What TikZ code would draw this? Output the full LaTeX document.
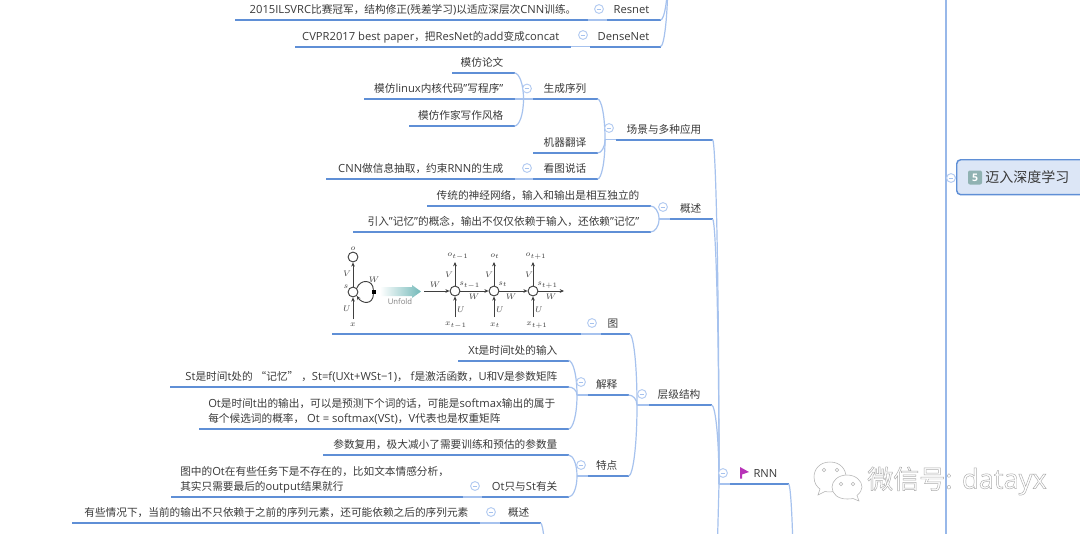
\documentclass[tikz,border=0pt]{standalone}
\usepackage{fontspec}
\setmainfont[Scale=1.05]{Open Sans}
\newfontfamily\cjkf{Noto Sans CJK SC}
\newXeTeXintercharclass\cjkclass
\makeatletter
\count@="3000
\loop\ifnum\count@<"303F \XeTeXcharclass\count@=\cjkclass \advance\count@ by 1 \repeat
\count@="4E00
\loop\ifnum\count@<"9FFF \XeTeXcharclass\count@=\cjkclass \advance\count@ by 1 \repeat
\count@="FF00
\loop\ifnum\count@<"FF60 \XeTeXcharclass\count@=\cjkclass \advance\count@ by 1 \repeat
\makeatother
\XeTeXcharclass"201C=\cjkclass
\XeTeXcharclass"201D=\cjkclass
\XeTeXinterchartoks 0 \cjkclass = {\begingroup\cjkf}
\XeTeXinterchartoks 4095 \cjkclass = {\begingroup\cjkf}
\XeTeXinterchartoks \cjkclass 0 = {\endgroup}
\XeTeXinterchartoks \cjkclass 4095 = {\endgroup}
\XeTeXinterchartokenstate=1
\usetikzlibrary{calc,arrows.meta}
\definecolor{ulc}{HTML}{5F8FD6}
\definecolor{cnc}{HTML}{A6C2EE}
\definecolor{txc}{HTML}{3A3A3A}
\definecolor{figc}{HTML}{3F3F3F}
\tikzset{
  x=0.75pt,y=-0.75pt,
  topic/.style={inner sep=0pt,anchor=south west,text height=8pt,text depth=4.6pt,text=txc,font=\fontsize{8}{11.25}\selectfont},
  ul/.style={draw=ulc,line width=1.5pt},
  conn/.style={draw=cnc,line width=0.9pt},
  collapse/.style={circle,draw=cnc!85!white,fill=white,line width=0.7pt,minimum size=6.6pt,inner sep=0pt,
    path picture={\draw[cnc,line width=0.6pt] ([xshift=1.5pt]path picture bounding box.west) -- ([xshift=-1.5pt]path picture bounding box.east);}},
  fnode/.style={circle,draw=figc,fill=white,line width=0.7pt,minimum size=7.4pt,inner sep=0pt},
  farrow/.style={draw=figc,line width=0.6pt,-{Stealth[length=3.2pt,width=2.8pt]}},
  flab/.style={inner sep=0pt,text=figc,font=\fontsize{6.5}{7}\selectfont},
  flabs/.style={inner sep=0pt,text=figc,font=\fontsize{5.8}{6}\selectfont},
}
% name, left x, right x, underline y, text (right aligned, 11px padding)
\newcommand{\tp}[5]{%
  \pgfmathsetmacro{\tpw}{(#3-#2)*0.75}%
  \node[topic] (#1) at (#2,#4) {\hbox to \tpw pt{\hfill #5\hskip 8.2pt}};%
  \draw[ul] (#1.south west) -- (#1.south east);}
% name, left x, right x, underline y, left pad (px), line 1, line 2
\newcommand{\tpm}[7]{%
  \pgfmathsetmacro{\tpw}{(#3-#2)*0.75}%
  \pgfmathsetmacro{\tpp}{#5*0.75}%
  \node[topic] (#1) at (#2,#4) {\hbox to \tpw pt{\hskip \tpp pt\vbox{\hbox{#6}\hbox{#7}}\hss}};%
  \draw[ul] (#1.south west) -- (#1.south east);}
% child node -> junction
\newcommand{\cn}[2]{%
  \draw[conn] (#1.south east) .. controls ($(#1.south east)!0.5!(#1.south east -| #2)$) and ($(#1.south east -| #2)!0.4!(#2)$) .. (#2);}
\newcommand{\lnk}[2]{\draw[conn] (#1) -- (#2);}
\begin{document}
\begin{tikzpicture}
\useasboundingbox (0,0) rectangle (1080,533);
\clip (0,0) rectangle (1080,533);
\fill[white] (0,0) rectangle (1080,533);

% topics
\tp{resL}{235}{587}{20}{2015ILSVRC比赛冠军，结构修正(残差学习)以适应深层次CNN训练。}
\tp{res}{607}{660}{20}{Resnet}
\tp{denL}{295}{570}{46.5}{CVPR2017 best paper，把ResNet的add变成concat}
\tp{den}{590}{660}{46.5}{DenseNet}

\tp{mf1}{452}{514}{73}{模仿论文}
\tp{mf2}{364}{514}{99}{模仿linux内核代码"写程序"}
\tp{mf3}{409}{514}{126}{模仿作家写作风格}
\tp{scxl}{533}{597}{99}{生成序列}
\tp{jqfy}{533}{597}{153}{机器翻译}
\tp{cnnL}{326}{514}{179}{CNN做信息抽取，约束RNN的生成}
\tp{ktsh}{533}{597}{179}{看图说话}
\tp{cj}{616}{712}{139.5}{场景与多种应用}

\tp{ctL}{427}{650}{206}{传统的神经网络，输入和输出是相互独立的}
\tp{yrL}{353}{650}{232}{引入"记忆"的概念，输出不仅仅依赖于输入，还依赖"记忆"}
\tp{gs}{670}{712}{219}{概述}

\tp{figL}{332}{580}{334}{}
\tp{tu}{601}{629}{334}{图}
\tp{xt}{458}{568}{360.5}{Xt是时间t处的输入}
\tp{st}{170}{568}{387}{St是时间t处的\ “记忆”\ ，St=f(UXt+WSt−1)， f是激活函数，U和V是参数矩阵}
\tpm{ot}{199}{568}{429}{9}{Ot是时间t出的输出，可以是预测下个词的话，可能是softmax输出的属于}{每个候选词的概率， Ot = softmax(VSt)，V代表也是权重矩阵}
\tp{js}{588}{628}{395}{解释}
\tp{cs}{323}{568}{455}{参数复用，极大减小了需要训练和预估的参数量}
\tpm{otsL}{171}{462}{497}{9}{图中的Ot在有些任务下是不存在的，比如文本情感分析，}{其实只需要最后的output结果就行}
\tp{ots}{482}{568}{497}{Ot只与St有关}
\tp{td}{588}{628}{476}{特点}
\tp{cjjg}{649}{711}{405}{层级结构}
\tp{gs2L}{72}{479}{523}{有些情况下，当前的输出不只依赖于之前的序列元素，还可能依赖之后的序列元素}
\tp{gs2}{500}{540}{523}{概述}
\tp{rnn}{730}{788}{484}{RNN}

% junctions
\coordinate (jtop) at (668,-30);
\coordinate (jsc) at (523.5,99);
\coordinate (jcj) at (605,139.5);
\coordinate (jgs) at (659,219);
\coordinate (jjs) at (577,395);
\coordinate (jtd) at (577,476);
\coordinate (jcjjg) at (637,405);
\coordinate (jrnn) at (719,484);
\coordinate (jmain) at (946,178);
\coordinate (jmt) at (946,-10);
\coordinate (jmb) at (946,545);
\coordinate (jrb) at (717,560);
\coordinate (jgsb) at (546,590);
\coordinate (jrnb) at (794,640);

% connectors
\cn{res}{jtop}
\cn{den}{jtop}
\lnk{resL.south east}{res.south west}
\lnk{denL.south east}{den.south west}
\cn{mf1}{jsc}
\cn{mf3}{jsc}
\lnk{mf2.south east}{scxl.south west}
\lnk{cnnL.south east}{ktsh.south west}
\cn{scxl}{jcj}
\cn{jqfy}{jcj}
\cn{ktsh}{jcj}
\lnk{jcj}{cj.south west}
\cn{ctL}{jgs}
\cn{yrL}{jgs}
\lnk{jgs}{gs.south west}
\lnk{figL.south east}{tu.south west}
\cn{xt}{jjs}
\cn{st}{jjs}
\cn{ot}{jjs}
\lnk{jjs}{js.south west}
\cn{cs}{jtd}
\cn{ots}{jtd}
\lnk{jtd}{td.south west}
\lnk{otsL.south east}{ots.south west}
\cn{tu}{jcjjg}
\cn{js}{jcjjg}
\cn{td}{jcjjg}
\lnk{jcjjg}{cjjg.south west}
\cn{cj}{jrnn}
\cn{gs}{jrnn}
\cn{cjjg}{jrnn}
\lnk{jrnn}{jrb}
\lnk{jrnn}{rnn.south west}
\lnk{gs2L.south east}{gs2.south west}
\cn{gs2}{jgsb}
\cn{rnn}{jrnb}
\draw[draw=cnc!80!ulc,line width=1.1pt] (jmt) -- (jmb);

% main topic
\node[draw=ulc,fill=ulc!22!white,line width=1.1pt,rounded corners=3pt,anchor=north west,minimum width=110pt,minimum height=26.2pt,inner sep=0pt] (maint) at (956,159) {};
\lnk{jmain}{maint.west}
\node[fill=teal!45!gray!60!white,rounded corners=1.5pt,minimum size=10.5pt,inner sep=0pt,text=white,font=\fontsize{7.5}{8}\selectfont\bfseries] (badge) at (975,177.5) {5};
\node[inner sep=0pt,anchor=west,text=txc,font=\fontsize{10.5}{12}\selectfont] (mainlab) at (985,177) {迈入深度学习};

% flag
\node[inner sep=0pt,minimum size=1pt] (flag) at (741,467) {};
\fill[fill=violet!70!magenta!80!white] (740,467) -- (749,472) -- (742,474.5) -- (742,478.5) -- (740,478.5) -- cycle;

% collapse buttons
\foreach \n/\p in {b1/{(599,9)},b2/{(583,35)},b3/{(527,88.5)},b4/{(527,168)},b5/{(609,128)},b6/{(663,207)},
  b7/{(592,323)},b8/{(581,382)},b9/{(581,465)},b10/{(475,486)},b11/{(491,512)},b12/{(642,394)},b13/{(723,473)},b14/{(951,178)}}
  \node[collapse] (\n) at \p {};

% unfold figure
\node[fnode] (s0) at (353,292) {};
\node[fnode] (o0) at (353,257) {};
\coordinate (x0) at (353,319);
\node[flab] (o0l) at (353,249) {$o$};
\node[flab] (x0l) at (353,325) {$x$};
\node[flab] (s0l) at (346,287) {$s$};
\node[flab] (v0l) at (347,274) {$V$};
\node[flab] (u0l) at (347,309) {$U$};
\node[flab] (w0l) at (374,280) {$W$};
\draw[farrow] (s0) -- (o0);
\draw[farrow] (x0) -- (s0);
\node[fill=black,minimum size=3pt,inner sep=0pt] (sq) at (373.5,292) {};
\draw[draw=figc,line width=0.7pt] (s0.north east) .. controls (360,279) and (373,279) .. (sq);
\draw[draw=figc,line width=0.7pt,-{Stealth[length=3pt,width=2.6pt]}] (sq) .. controls (373,305) and (362,304) .. (s0.south east);
\shade[left color=white,right color=teal!55!white] (380,287) -- (412,287) -- (412,285) -- (421,291.5) -- (412,298) -- (412,296) -- (380,296) -- cycle;
\node[inner sep=0pt,text=gray,font=\fontsize{5.5}{6}\selectfont] (unf) at (400,302) {Unfold};

\coordinate (win) at (424,291);
\node[fnode] (s1) at (455,291) {};
\node[fnode] (s2) at (494,291) {};
\node[fnode] (s3) at (533,291) {};
\coordinate (wout) at (564,291);
\coordinate (o1) at (455,262);
\coordinate (o2) at (494,262);
\coordinate (o3) at (533,262);
\coordinate (x1) at (455,317);
\coordinate (x2) at (494,317);
\coordinate (x3) at (533,317);
\draw[farrow] (win) -- (s1);
\draw[farrow] (s1) -- (s2);
\draw[farrow] (s2) -- (s3);
\draw[farrow] (s3) -- (wout);
\foreach \s/\o/\x in {s1/o1/x1,s2/o2/x2,s3/o3/x3}{
  \draw[farrow] (\s) -- (\o);
  \draw[farrow] (\x) -- (\s);
}
\node[flab] (wl0) at (435,285) {$W$};
\node[flab] (wl1) at (474,297) {$W$};
\node[flab] (wl2) at (511,297) {$W$};
\node[flab] (wl3) at (551,297) {$W$};
\node[flabs] (ol1) at (458,256) {$o_{t-1}$};
\node[flabs] (ol2) at (495,256) {$o_{t}$};
\node[flabs] (ol3) at (536,256) {$o_{t+1}$};
\node[flabs,anchor=west] (sl1) at (459,285) {$s_{t-1}$};
\node[flabs,anchor=west] (sl2) at (498,284) {$s_{t}$};
\node[flabs,anchor=west] (sl3) at (537,285) {$s_{t+1}$};
\node[flab] (vl1) at (449,275) {$V$};
\node[flab] (vl2) at (489,275) {$V$};
\node[flab] (vl3) at (529,275) {$V$};
\node[flab] (ul1) at (461,310) {$U$};
\node[flab] (ul2) at (500,310) {$U$};
\node[flab] (ul3) at (539,310) {$U$};
\node[flabs] (xl1) at (456,325) {$x_{t-1}$};
\node[flabs] (xl2) at (495,325) {$x_{t}$};
\node[flabs] (xl3) at (537,325) {$x_{t+1}$};

% watermark
\begin{scope}[draw=black!30,fill=white,line width=0.4pt]
\path[draw,fill] (830,462) .. controls (820,462) and (814,469) .. (814,477) .. controls (814,483) and (817,487) .. (820,489) -- (818,495) -- (825,491.5) .. controls (832,493) and (846,491) .. (846,477) .. controls (846,469) and (840,462) .. (830,462) -- cycle;
\path[draw,fill] (847,475) .. controls (838,475) and (832,481) .. (832,487) .. controls (832,494) and (838,499) .. (847,499) .. controls (849,499) and (851,499) .. (853,498.5) -- (859,501) -- (857,495.5) .. controls (860,493) and (862,490) .. (862,487) .. controls (862,481) and (856,475) .. (847,475) -- cycle;
\foreach \a/\b in {824/470,837/470,841/484,853/484}
  \draw (\a,\b) circle[radius=1.3pt];
\end{scope}
\node[inner sep=0pt,anchor=west,font=\fontsize{19.5}{22}\selectfont] (wm) at (867,481) {\special{pdf:code 2 Tr 0.35 w 0.68 0.68 0.68 RG 1 1 1 rg}微信号: datayx\special{pdf:code 0 Tr}};
\end{tikzpicture}
\end{document}
